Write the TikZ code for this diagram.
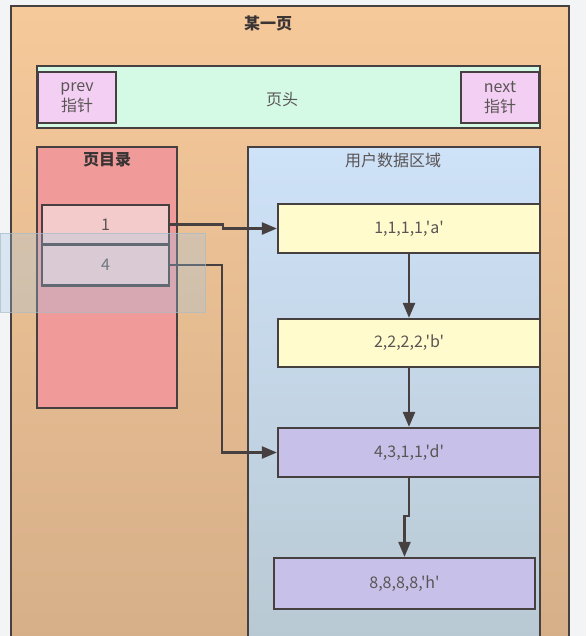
\documentclass[tikz,border=0pt]{standalone}
\usepackage{fontspec}
\newfontfamily\cjk{Noto Sans CJK SC}
\usetikzlibrary{arrows.meta}

\definecolor{edge}{HTML}{474040}
\definecolor{txt}{HTML}{5A5555}
\definecolor{dark}{HTML}{3A3434}
\definecolor{backdrop}{HTML}{F3F4F5}
\definecolor{pagetop}{HTML}{F6C99A}
\definecolor{pagebot}{HTML}{D5AE88}
\definecolor{mint}{HTML}{D4FAE6}
\definecolor{ptr}{HTML}{F3D0F3}
\definecolor{dirfill}{HTML}{F09B9A}
\definecolor{entry}{HTML}{F4CBCB}
\definecolor{usertop}{HTML}{CEE2F8}
\definecolor{userbot}{HTML}{B8C8D2}
\definecolor{recy}{HTML}{FFFBCC}
\definecolor{recl}{HTML}{C7C1E9}
\definecolor{selfill}{HTML}{9EC8E8}
\definecolor{seledge}{HTML}{A8BCC8}

\newcommand\txtsize{\cjk\fontsize{16}{20}\selectfont}

\tikzset{
  box/.style={draw=edge, line width=2.2pt, inner sep=0pt, text=txt, font=\txtsize},
  label/.style={text=txt, inner sep=0pt, font=\txtsize},
  rec/.style={box, minimum width=262pt, minimum height=49pt},
  link/.style={draw=edge, line width=2.4pt, -{Triangle[length=15pt,width=12pt]}},
}

\begin{document}
\begin{tikzpicture}[x=1pt,y=-1pt]
  \clip (0,0) rectangle (586,636);
  \fill[backdrop] (0,0) rectangle (586,636);

  % the page
  \node[box, minimum width=558pt, minimum height=654pt,
        top color=pagetop, bottom color=pagebot] (page) at (290,333) {};
  \node[label, text=dark, font=\txtsize\bfseries] (pagetitle) at (268,23) {某一页};

  % page header with prev / next pointers
  \node[box, fill=mint, minimum width=503pt, minimum height=62pt] (header) at (288.5,97) {};
  \node[box, fill=ptr, minimum width=78pt, minimum height=51pt, align=center] (prev) at (77,97.5) {prev\\指针};
  \node[box, fill=ptr, minimum width=78pt, minimum height=51pt, align=center] (next) at (500,97.5) {next\\指针};
  \node[label] (headtitle) at (282,100) {页头};

  % page directory
  \node[box, fill=dirfill, minimum width=140pt, minimum height=261pt] (dir) at (107,277.5) {};
  \node[label, text=dark, font=\txtsize\bfseries] (dirtitle) at (107,160) {页目录};
  \node[box, fill=entry, minimum width=127pt, minimum height=39pt] (e1) at (105.5,224.5) {1};
  \node[box, fill=entry, minimum width=127pt, minimum height=41pt] (e4) at (105.5,265) {4};

  % user records
  \node[box, minimum width=292pt, minimum height=513pt,
        top color=usertop, bottom color=userbot] (user) at (394,403.5) {};
  \node[label] (usertitle) at (393,160) {用户数据区域};
  \node[rec, fill=recy] (r1) at (409,228.5) {1,1,1,1,'a'};
  \node[rec, fill=recy, minimum height=48pt] (r2) at (409,343) {2,2,2,2,'b'};
  \node[rec, fill=recl] (r3) at (409,452.5) {4,3,1,1,'d'};
  \node[rec, fill=recl, minimum width=261pt, minimum height=51pt] (r4) at (404.5,583.5) {8,8,8,8,'h'};

  % slots point to records, records chained in key order
  \draw[link] (e1.east) -- ++(53,0) |- (r1.west);
  \draw[link] (e4.east) -- ++(52,0) |- (r3.west);
  \draw[link] (r1.south) -- (r2.north);
  \draw[link] (r2.south) -- (r3.north);
  \draw[link] (r3.south) -- ++(0,38) -| (r4.north);

  % selection highlight
  \fill[selfill, opacity=0.3] (0,233) rectangle (205,312);
  \draw[seledge, opacity=0.7, line width=0.8pt] (0,233) rectangle (205,312);
\end{tikzpicture}
\end{document}
